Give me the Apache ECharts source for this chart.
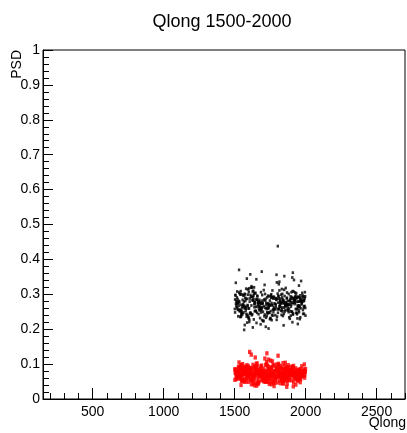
<!DOCTYPE html>
<html>
<head>
<meta charset="utf-8">
<script src="https://cdn.jsdelivr.net/npm/echarts@6/dist/echarts.min.js"></script>
<style>
  html, body { margin: 0; padding: 0; background: #fff; }
  #chart { width: 407px; height: 433px; }
</style>
</head>
<body>
<div id="chart"></div>
<script>
// Axis ranges and tick positions
const qlongRange = [150, 2700];
const psdRange = [0, 1];
const qlongMajorTicks = [500, 1000, 1500, 2000, 2500];
const qlongMinorTicks = [200, 300, 400, 600, 700, 800, 900, 1100, 1200, 1300, 1400, 1600, 1700, 1800, 1900,
  2100, 2200, 2300, 2400, 2600, 2700];

// Upper band (black points): Qlong and PSD for each event
const blackQlong = [
  1512, 1873, 1634, 1958, 1705, 1547, 1921, 1789, 1603, 1856, 1532, 1744, 1987, 1668, 1815, 1579, 1902, 1721, 1640, 1948,
  1503, 1836, 1697, 1761, 1589, 1930, 1622, 1874, 1555, 1809, 1966, 1683, 1741, 1518, 1893, 1652, 1787, 1610, 1999, 1729,
  1568, 1847, 1917, 1636, 1775, 1524, 1959, 1694, 1823, 1601, 1880, 1748, 1543, 1972, 1661, 1802, 1586, 1935, 1715, 1628,
  1867, 1509, 1754, 1909, 1675, 1830, 1562, 1991, 1643, 1796, 1537, 1884, 1708, 1954, 1619, 1761, 1595, 1926, 1687, 1842,
  1528, 1978, 1733, 1654, 1898, 1573, 1815, 1940, 1606, 1769, 1501, 1859, 1691, 1963, 1624, 1738, 1881, 1549, 1806, 1669,
  1915, 1582, 1752, 1995, 1638, 1827, 1516, 1948, 1702, 1871, 1593, 1784, 1657, 1933, 1541, 1820, 1726, 1968, 1613, 1890,
  1559, 1777, 1903, 1680, 1845, 1521, 1986, 1647, 1763, 1908, 1574, 1833, 1711, 1955, 1631, 1799, 1506, 1866, 1744, 1920,
  1597, 1685, 1973, 1549, 1812, 1662, 1889, 1735, 1534, 1951, 1616, 1791, 1877, 1567, 1723, 1997, 1649, 1838, 1512, 1906,
  1698, 1582, 1762, 1944, 1627, 1855, 1540, 1718, 1981, 1673, 1803, 1563, 1897, 1757, 1604, 1928, 1690, 1849, 1526, 1776,
  1962, 1641, 1819, 1588, 1913, 1706, 1869, 1553, 1740, 1985, 1620, 1794, 1531, 1937, 1666, 1828, 1599, 1750, 1892, 1676,
  1515, 1957, 1712, 1843, 1581, 1770, 1924, 1635, 1881, 1548, 1736, 1990, 1658, 1811, 1592, 1946, 1727, 1862, 1519, 1783,
  1905, 1644, 1825, 1571, 1969, 1696, 1852, 1608, 1742, 1918, 1536, 1800, 1679, 1952, 1561, 1873, 1722, 1989, 1632, 1767,
  1503, 1896, 1659, 1817, 1578, 1938, 1703, 1846, 1600, 1779, 1967, 1544, 1731, 1910, 1650, 1834, 1525, 1984, 1688, 1758,
  1923, 1611, 1860, 1569, 1793, 1942, 1670, 1808, 1538, 1746, 1976, 1625, 1887, 1557, 1719, 1932, 1681, 1839, 1508, 1773,
  1949, 1639, 1864, 1584, 1714, 1899, 1546, 1822, 1693, 1971, 1602, 1755, 1912, 1664, 1850, 1529, 1786, 1994, 1645, 1814,
  1576, 1926, 1700, 1871, 1615, 1748, 1960, 1551, 1832, 1686, 1901, 1594, 1768, 1943, 1633, 1857, 1514, 1739, 1979, 1672,
  1805, 1565, 1915, 1725, 1884, 1607, 1790, 1953, 1535, 1844, 1677, 1930, 1589, 1760, 1998, 1653, 1821, 1522, 1894, 1709,
  1964, 1618, 1837, 1574, 1780, 1907, 1661, 1848, 1543, 1734, 1975, 1629, 1876, 1560, 1797, 1939, 1695, 1816, 1505, 1753,
  1921, 1648, 1869, 1591, 1766, 1982, 1556, 1810, 1684, 1945, 1612, 1858, 1530, 1729, 1900, 1667, 1840, 1580, 1795, 1965,
  1623, 1886, 1547, 1716, 1934, 1671, 1826, 1598, 1771, 1992, 1637, 1853, 1517, 1745, 1911, 1689, 1835, 1570, 1804, 1956
];
const blackPSD = [
  0.281, 0.254, 0.297, 0.263, 0.312, 0.238, 0.276, 0.289, 0.221, 0.268, 0.305, 0.247, 0.284, 0.271, 0.336, 0.259, 0.292, 0.233, 0.278, 0.266,
  0.248, 0.301, 0.273, 0.226, 0.287, 0.258, 0.319, 0.269, 0.243, 0.295, 0.279, 0.214, 0.262, 0.308, 0.251, 0.286, 0.272, 0.357, 0.239, 0.291,
  0.267, 0.244, 0.283, 0.302, 0.256, 0.275, 0.229, 0.298, 0.264, 0.317, 0.249, 0.282, 0.236, 0.271, 0.294, 0.257, 0.345, 0.278, 0.261, 0.205,
  0.288, 0.273, 0.252, 0.309, 0.284, 0.241, 0.296, 0.266, 0.278, 0.227, 0.301, 0.259, 0.285, 0.249, 0.323, 0.270, 0.238, 0.293, 0.262, 0.281,
  0.255, 0.297, 0.274, 0.218, 0.287, 0.263, 0.311, 0.246, 0.279, 0.292, 0.258, 0.271, 0.365, 0.234, 0.283, 0.267, 0.301, 0.252, 0.276, 0.243,
  0.289, 0.264, 0.232, 0.306, 0.272, 0.253, 0.291, 0.279, 0.224, 0.268, 0.314, 0.257, 0.284, 0.247, 0.299, 0.273, 0.261, 0.338, 0.245, 0.280,
  0.269, 0.293, 0.250, 0.277, 0.211, 0.286, 0.262, 0.304, 0.241, 0.275, 0.290, 0.256, 0.327, 0.266, 0.282, 0.236, 0.298, 0.271, 0.248, 0.283,
  0.259, 0.306, 0.274, 0.243, 0.288, 0.265, 0.230, 0.296, 0.278, 0.254, 0.319, 0.263, 0.281, 0.198, 0.270, 0.294, 0.251, 0.285, 0.267, 0.348,
  0.276, 0.244, 0.292, 0.261, 0.308, 0.272, 0.235, 0.287, 0.255, 0.279, 0.302, 0.248, 0.265, 0.290, 0.227, 0.283, 0.258, 0.313, 0.274, 0.262,
  0.297, 0.252, 0.280, 0.219, 0.289, 0.266, 0.305, 0.246, 0.273, 0.294, 0.240, 0.284, 0.370, 0.257, 0.277, 0.299, 0.233, 0.268, 0.286, 0.254,
  0.264, 0.291, 0.242, 0.278, 0.316, 0.256, 0.285, 0.228, 0.271, 0.300, 0.259, 0.282, 0.247, 0.329, 0.267, 0.293, 0.238, 0.276, 0.260, 0.288,
  0.250, 0.303, 0.274, 0.212, 0.283, 0.263, 0.295, 0.245, 0.270, 0.341, 0.256, 0.287, 0.232, 0.279, 0.298, 0.261, 0.275, 0.244, 0.310, 0.268,
  0.285, 0.239, 0.296, 0.266, 0.253, 0.289, 0.223, 0.277, 0.307, 0.258, 0.282, 0.270, 0.246, 0.362, 0.264, 0.291, 0.237, 0.280, 0.255, 0.300,
  0.272, 0.248, 0.318, 0.260, 0.286, 0.231, 0.276, 0.295, 0.252, 0.269, 0.304, 0.243, 0.281, 0.265, 0.207, 0.290, 0.258, 0.274, 0.333, 0.249,
  0.292, 0.263, 0.278, 0.236, 0.301, 0.271, 0.254, 0.287, 0.226, 0.283, 0.260, 0.297, 0.245, 0.276, 0.352, 0.267, 0.240, 0.289, 0.273, 0.257,
  0.281, 0.305, 0.250, 0.271, 0.293, 0.229, 0.284, 0.262, 0.315, 0.248, 0.277, 0.299, 0.239, 0.268, 0.286, 0.255, 0.274, 0.202, 0.291, 0.264,
  0.247, 0.279, 0.308, 0.258, 0.234, 0.288, 0.270, 0.325, 0.252, 0.283, 0.265, 0.296, 0.241, 0.275, 0.261, 0.343, 0.280, 0.256, 0.294, 0.237,
  0.289, 0.268, 0.251, 0.300, 0.274, 0.220, 0.285, 0.262, 0.309, 0.246, 0.278, 0.292, 0.255, 0.271, 0.334, 0.243, 0.282, 0.266, 0.297, 0.230,
  0.276, 0.253, 0.290, 0.269, 0.311, 0.244, 0.284, 0.259, 0.273, 0.215, 0.298, 0.265, 0.281, 0.249, 0.306, 0.272, 0.238, 0.287, 0.356, 0.260,
  0.293, 0.270, 0.245, 0.282, 0.303, 0.257, 0.277, 0.231, 0.288, 0.266, 0.320, 0.251, 0.279, 0.294, 0.242, 0.273, 0.262, 0.301, 0.438, 0.268
];

// Lower band (red points): Qlong and PSD for each event
const redQlong = [
  1527, 1864, 1613, 1942, 1738, 1571, 1895, 1656, 1809, 1502, 1977, 1692, 1843, 1585, 1761, 1919, 1634, 1878, 1549, 1716,
  1953, 1608, 1826, 1669, 1904, 1538, 1787, 1996, 1645, 1862, 1576, 1743, 1931, 1621, 1855, 1511, 1709, 1970, 1682, 1817,
  1559, 1889, 1731, 1604, 1961, 1648, 1794, 1523, 1912, 1676, 1838, 1591, 1757, 1983, 1627, 1871, 1544, 1725, 1946, 1663,
  1806, 1567, 1899, 1714, 1637, 1853, 1501, 1778, 1925, 1690, 1833, 1583, 1968, 1652, 1749, 1891, 1532, 1800, 1617, 1957,
  1701, 1846, 1574, 1934, 1665, 1782, 1514, 1880, 1741, 1598, 1993, 1629, 1821, 1557, 1906, 1687, 1768, 1941, 1541, 1859,
  1616, 1733, 1974, 1658, 1815, 1595, 1887, 1706, 1528, 1949, 1641, 1792, 1867, 1563, 1720, 1915, 1674, 1836, 1507, 1764,
  1982, 1605, 1848, 1695, 1926, 1550, 1772, 1660, 1893, 1534, 1811, 1739, 1959, 1623, 1868, 1580, 1697, 1938, 1652, 1787,
  1520, 1903, 1724, 1843, 1586, 1966, 1639, 1798, 1545, 1877, 1711, 1991, 1606, 1829, 1572, 1752, 1916, 1679, 1857, 1513,
  1745, 1952, 1632, 1819, 1561, 1883, 1704, 1610, 1937, 1670, 1795, 1535, 1909, 1727, 1851, 1593, 1980, 1648, 1774, 1525,
  1869, 1693, 1944, 1578, 1832, 1718, 1612, 1897, 1547, 1760, 1985, 1643, 1814, 1568, 1922, 1686, 1841, 1510, 1737, 1963,
  1626, 1784, 1553, 1911, 1672, 1862, 1596, 1729, 1948, 1537, 1803, 1655, 1879, 1584, 1756, 1997, 1619, 1826, 1564, 1713,
  1935, 1667, 1850, 1504, 1776, 1920, 1644, 1809, 1588, 1960, 1698, 1839, 1527, 1747, 1901, 1631, 1872, 1556, 1790, 1971,
  1601, 1723, 1886, 1542, 1817, 1684, 1954, 1615, 1766, 1928, 1575, 1858, 1707, 1987, 1638, 1797, 1519, 1913, 1661, 1835,
  1581, 1750, 1973, 1628, 1866, 1539, 1785, 1942, 1675, 1824, 1599, 1735, 1896, 1653, 1874, 1516, 1759, 1989, 1620, 1806,
  1565, 1929, 1702, 1845, 1592, 1771, 1958, 1635, 1881, 1530, 1744, 1907, 1664, 1820, 1577, 1994, 1689, 1853, 1548, 1730,
  1918, 1646, 1793, 1509, 1863, 1719, 1976, 1603, 1828, 1570, 1754, 1939, 1678, 1842, 1521, 1781, 1905, 1640, 1865, 1596,
  1740, 1965, 1657, 1812, 1543, 1890, 1696, 1767, 1930, 1614, 1855, 1560, 1726, 1984, 1649, 1801, 1533, 1876, 1710, 1947,
  1589, 1834, 1671, 1914, 1552, 1763, 1999, 1633, 1870, 1518, 1748, 1923, 1685, 1840, 1606, 1779, 1955, 1558, 1818, 1699,
  1885, 1624, 1760, 1967, 1540, 1808, 1681, 1936, 1597, 1847, 1734, 1506, 1902, 1659, 1789, 1979, 1618, 1861, 1573, 1721,
  1950, 1642, 1831, 1562, 1773, 1908, 1668, 1854, 1531, 1796, 1986, 1611, 1742, 1927, 1587, 1822, 1694, 1962, 1546, 1880
];
const redPSD = [
  0.072, 0.058, 0.086, 0.064, 0.093, 0.049, 0.077, 0.069, 0.101, 0.055, 0.081, 0.066, 0.044, 0.074, 0.089, 0.061, 0.070, 0.097, 0.052, 0.079,
  0.063, 0.084, 0.071, 0.047, 0.092, 0.067, 0.056, 0.078, 0.119, 0.060, 0.085, 0.073, 0.041, 0.069, 0.094, 0.057, 0.076, 0.065, 0.088, 0.053,
  0.080, 0.068, 0.050, 0.087, 0.062, 0.075, 0.099, 0.059, 0.072, 0.083, 0.046, 0.067, 0.091, 0.074, 0.054, 0.081, 0.064, 0.106, 0.070, 0.058,
  0.066, 0.090, 0.073, 0.051, 0.079, 0.062, 0.085, 0.037, 0.070, 0.096, 0.059, 0.077, 0.068, 0.088, 0.048, 0.074, 0.063, 0.082, 0.127, 0.071,
  0.057, 0.076, 0.093, 0.065, 0.043, 0.080, 0.069, 0.054, 0.087, 0.072, 0.061, 0.098, 0.075, 0.052, 0.083, 0.067, 0.078, 0.059, 0.090, 0.070,
  0.084, 0.060, 0.073, 0.102, 0.066, 0.049, 0.079, 0.071, 0.092, 0.056, 0.068, 0.086, 0.035, 0.074, 0.063, 0.095, 0.077, 0.058, 0.081, 0.067,
  0.070, 0.089, 0.055, 0.078, 0.064, 0.097, 0.072, 0.045, 0.083, 0.069, 0.076, 0.113, 0.060, 0.087, 0.073, 0.051, 0.080, 0.066, 0.094, 0.062,
  0.075, 0.053, 0.082, 0.068, 0.091, 0.071, 0.059, 0.086, 0.040, 0.077, 0.065, 0.099, 0.073, 0.057, 0.084, 0.069, 0.048, 0.079, 0.104, 0.064,
  0.061, 0.078, 0.070, 0.095, 0.054, 0.082, 0.067, 0.088, 0.074, 0.050, 0.090, 0.063, 0.072, 0.131, 0.058, 0.080, 0.069, 0.085, 0.046, 0.076,
  0.087, 0.065, 0.052, 0.079, 0.071, 0.098, 0.060, 0.075, 0.083, 0.042, 0.068, 0.092, 0.074, 0.056, 0.081, 0.066, 0.103, 0.070, 0.059, 0.086,
  0.073, 0.048, 0.089, 0.067, 0.080, 0.062, 0.094, 0.071, 0.055, 0.084, 0.077, 0.038, 0.069, 0.091, 0.064, 0.078, 0.053, 0.087, 0.072, 0.116,
  0.066, 0.082, 0.059, 0.075, 0.096, 0.070, 0.047, 0.085, 0.063, 0.079, 0.072, 0.057, 0.090, 0.068, 0.081, 0.044, 0.076, 0.100, 0.061, 0.074,
  0.088, 0.071, 0.055, 0.093, 0.067, 0.080, 0.062, 0.076, 0.108, 0.058, 0.073, 0.085, 0.050, 0.069, 0.092, 0.065, 0.079, 0.036, 0.074, 0.083,
  0.060, 0.077, 0.094, 0.070, 0.053, 0.086, 0.066, 0.081, 0.073, 0.045, 0.089, 0.068, 0.078, 0.101, 0.062, 0.075, 0.057, 0.084, 0.071, 0.124,
  0.079, 0.064, 0.087, 0.052, 0.074, 0.097, 0.069, 0.058, 0.082, 0.072, 0.043, 0.091, 0.076, 0.063, 0.085, 0.070, 0.054, 0.080, 0.067, 0.095,
  0.068, 0.083, 0.061, 0.076, 0.090, 0.049, 0.073, 0.087, 0.065, 0.079, 0.110, 0.056, 0.071, 0.084, 0.062, 0.077, 0.093, 0.039, 0.075, 0.066,
  0.082, 0.057, 0.074, 0.069, 0.096, 0.063, 0.080, 0.051, 0.088, 0.072, 0.060, 0.077, 0.099, 0.066, 0.084, 0.047, 0.073, 0.090, 0.058, 0.078,
  0.070, 0.092, 0.064, 0.081, 0.055, 0.075, 0.086, 0.068, 0.044, 0.079, 0.071, 0.063, 0.094, 0.076, 0.135, 0.059, 0.083, 0.067, 0.088, 0.053,
  0.077, 0.065, 0.089, 0.072, 0.058, 0.098, 0.069, 0.081, 0.061, 0.074, 0.050, 0.085, 0.070, 0.093, 0.064, 0.078, 0.042, 0.087, 0.073, 0.060,
  0.084, 0.071, 0.056, 0.080, 0.067, 0.091, 0.075, 0.062, 0.105, 0.069, 0.078, 0.054, 0.086, 0.072, 0.097, 0.065, 0.081, 0.048, 0.074, 0.090
];

const FONT = '"Liberation Sans", Arial, Helvetica, sans-serif';

function pairs(xs, ys) {
  return xs.map((x, i) => [x, ys[i]]);
}

const chart = echarts.init(document.getElementById('chart'), null, { renderer: 'canvas' });

chart.setOption({
  animation: false,
  backgroundColor: '#ffffff',
  grid: {
    left: 43, right: 2, top: 50, bottom: 34,
    show: true, borderColor: '#000', borderWidth: 1, backgroundColor: 'transparent'
  },
  graphic: [
    {
      type: 'text', x: 222, y: 22,
      style: { text: 'Qlong 1500-2000', font: '18px ' + FONT, fill: '#000', align: 'center', verticalAlign: 'middle' }
    },
    {
      type: 'text', x: 406, y: 423,
      style: { text: 'Qlong', font: '14px ' + FONT, fill: '#000', align: 'right', verticalAlign: 'middle' }
    },
    {
      type: 'text', x: 17, y: 50, rotation: Math.PI / 2,
      style: { text: 'PSD', font: '14px ' + FONT, fill: '#000', align: 'right', verticalAlign: 'middle' }
    }
  ],
  xAxis: [
    {
      type: 'value', position: 'bottom', min: qlongRange[0], max: qlongRange[1],
      axisLine: { show: true, onZero: false, lineStyle: { color: '#000', width: 1 } },
      axisTick: { show: true, inside: true, length: 11, customValues: qlongMajorTicks, lineStyle: { color: '#000' } },
      axisLabel: {
        show: true, customValues: qlongMajorTicks, margin: 6, fontSize: 14, fontFamily: FONT, color: '#000',
        formatter: v => String(v)
      },
      splitLine: { show: false }
    },
    {
      type: 'value', position: 'bottom', min: qlongRange[0], max: qlongRange[1],
      axisLine: { show: false, onZero: false },
      axisTick: { show: true, inside: true, length: 6, customValues: qlongMinorTicks, lineStyle: { color: '#000' } },
      axisLabel: { show: false },
      splitLine: { show: false }
    }
  ],
  yAxis: {
    type: 'value', min: psdRange[0], max: psdRange[1], interval: 0.1,
    axisLine: { show: true, onZero: false, lineStyle: { color: '#000', width: 1 } },
    axisTick: { show: true, inside: true, length: 10, lineStyle: { color: '#000' } },
    minorTick: { show: true, splitNumber: 5, length: 6, lineStyle: { color: '#000' } },
    axisLabel: {
      margin: 3, fontSize: 14, fontFamily: FONT, color: '#000',
      formatter: v => String(Math.round(v * 10) / 10)
    },
    splitLine: { show: false }
  },
  series: [
    {
      type: 'scatter', xAxisIndex: 0, yAxisIndex: 0, silent: true,
      symbol: 'rect', symbolSize: [2.4, 2.8],
      itemStyle: { color: '#000' },
      data: pairs(blackQlong, blackPSD)
    },
    {
      type: 'scatter', xAxisIndex: 0, yAxisIndex: 0, silent: true,
      symbol: 'rect', symbolSize: [3.4, 4.2],
      itemStyle: { color: '#ff0000' },
      data: pairs(redQlong, redPSD)
    }
  ]
});
</script>
</body>
</html>
